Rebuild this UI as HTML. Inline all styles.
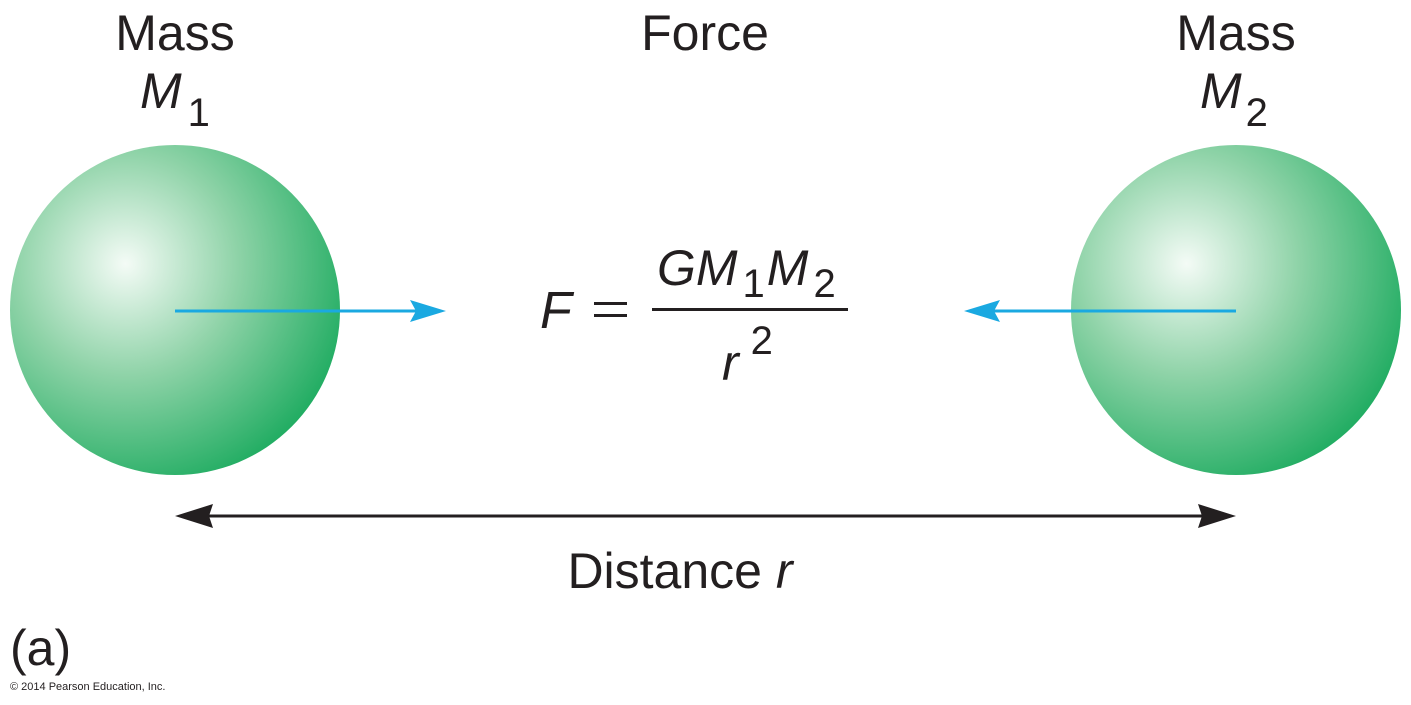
<!DOCTYPE html>
<html><head><style>html,body{margin:0;padding:0;background:#fff;}svg{display:block}</style></head>
<body>
<svg width="1411" height="705" viewBox="0 0 1411 705" xmlns="http://www.w3.org/2000/svg" font-family="'Liberation Sans', sans-serif" fill="#231f20">
<defs>
<radialGradient id="g" cx="0.35" cy="0.36" r="0.75" fx="0.35" fy="0.36">
<stop offset="0" stop-color="#f4fbf6"/>
<stop offset="0.45" stop-color="#8fd3a8"/>
<stop offset="1" stop-color="#14a85a"/>
</radialGradient>
</defs>
<circle cx="175" cy="310" r="165" fill="url(#g)"/>
<circle cx="1236" cy="310" r="165" fill="url(#g)"/>
<text x="175" y="50" font-size="50" text-anchor="middle">Mass</text>
<text x="140" y="108" font-size="50" font-style="italic">M<tspan font-style="normal" font-size="40" dx="6" dy="18">1</tspan></text>
<text x="1236" y="50" font-size="50" text-anchor="middle">Mass</text>
<text x="1200" y="108" font-size="50" font-style="italic">M<tspan font-style="normal" font-size="40" dx="4" dy="18">2</tspan></text>
<text x="705" y="50" font-size="50" text-anchor="middle">Force</text>
<text x="540" y="328" font-size="52" font-style="italic">F</text>
<rect x="594" y="302" width="33" height="3"/>
<rect x="594" y="314" width="33" height="3"/>
<rect x="652" y="308" width="196" height="3"/>
<text x="657" y="285" font-size="50" font-style="italic">GM<tspan font-style="normal" font-size="40" dx="5" dy="12">1</tspan><tspan dx="2" dy="-12">M</tspan><tspan font-style="normal" font-size="40" dx="5" dy="12">2</tspan></text>
<text x="722" y="380" font-size="50" font-style="italic">r<tspan font-style="normal" font-size="40" dx="12" dy="-26">2</tspan></text>
<text x="680" y="588" font-size="50" text-anchor="middle">Distance <tspan font-style="italic">r</tspan></text>
<text x="10" y="665" font-size="50">(a)</text>
<text x="10" y="690" font-size="11">© 2014 Pearson Education, Inc.</text>
<line x1="175" y1="311" x2="420" y2="311" stroke="#1aa9e1" stroke-width="3"/>
<path d="M446 311 L410 300 L416 311 L410 322 Z" fill="#1aa9e1"/>
<line x1="990" y1="311" x2="1236" y2="311" stroke="#1aa9e1" stroke-width="3"/>
<path d="M964 311 L1000 300 L994 311 L1000 322 Z" fill="#1aa9e1"/>
<line x1="200" y1="516" x2="1210" y2="516" stroke="#231f20" stroke-width="3"/>
<path d="M175 516 L213 504 L209 516 L213 528 Z"/>
<path d="M1236 516 L1198 504 L1202 516 L1198 528 Z"/>
</svg>
</body></html>
